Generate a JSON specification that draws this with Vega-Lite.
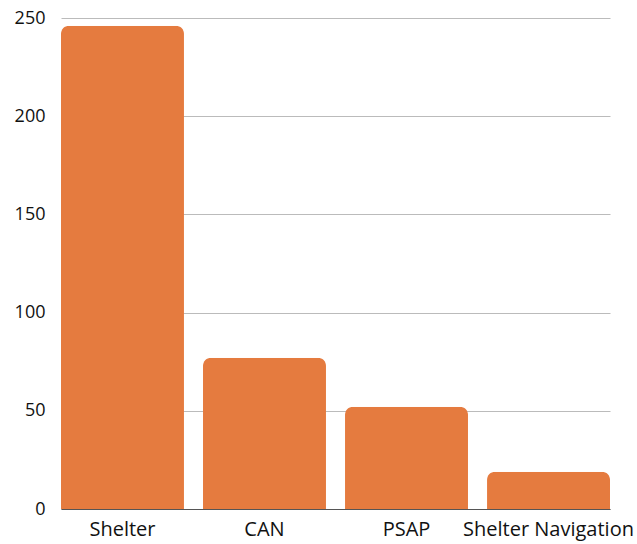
{
  "$schema": "https://vega.github.io/schema/vega-lite/v6.json",
  "width": 549,
  "height": 491,
  "autosize": {"type": "none"},
  "padding": {"left": 61, "top": 18, "right": 27, "bottom": 35},
  "background": "white",
  "config": {
    "view": {"stroke": null},
    "font": "Open Sans"
  },
  "data": {
    "values": [
      {"program": "Shelter", "count": 246},
      {"program": "CAN", "count": 77},
      {"program": "PSAP", "count": 52},
      {"program": "Shelter Navigation", "count": 19}
    ]
  },
  "mark": {
    "type": "bar",
    "color": "#E57B3F",
    "cornerRadiusTopLeft": 8,
    "cornerRadiusTopRight": 8
  },
  "encoding": {
    "x": {
      "field": "program",
      "type": "nominal",
      "sort": null,
      "scale": {"paddingInner": 0.134, "paddingOuter": 0},
      "axis": {
        "title": null,
        "labelAngle": 0,
        "labelFontSize": 20,
        "labelColor": "#111111",
        "labelPadding": 10,
        "ticks": false,
        "domainColor": "#555555",
        "domainWidth": 1,
        "labelFont": "Open Sans"
      }
    },
    "y": {
      "field": "count",
      "type": "quantitative",
      "scale": {"domain": [0, 250], "nice": false},
      "axis": {
        "title": null,
        "values": [0, 50, 100, 150, 200, 250],
        "labelFontSize": 18,
        "labelColor": "#111111",
        "labelPadding": 16,
        "ticks": false,
        "domain": false,
        "gridColor": "#bbbbbb",
        "gridWidth": 1,
        "labelFont": "Open Sans"
      }
    }
  }
}
